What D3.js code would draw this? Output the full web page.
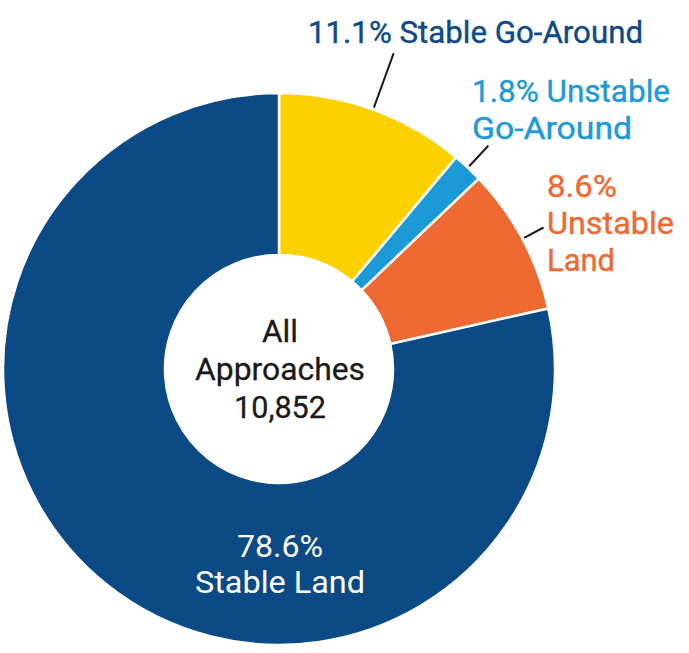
<!DOCTYPE html>
<html>
<head>
<meta charset="utf-8">
<script src="https://cdn.jsdelivr.net/npm/d3@7"></script>
<style>
  html, body { margin: 0; padding: 0; background: #ffffff; }
  svg { display: block; }
  text { font-family: Roboto, "Open Sans", sans-serif; }
</style>
</head>
<body>
<script>
// ---- data ----
const categories = ["Stable Go-Around", "Unstable Go-Around", "Unstable Land", "Stable Land"];
const percents = [11.1, 1.8, 8.6, 78.6];
const colors = ["#FDD000", "#1B9AD7", "#EE6A32", "#0B4A84"];
const labelColors = ["#0E4A86", "#1B9AD7", "#EE6A32", "#ffffff"];
const centerLines = ["All", "Approaches", "10,852"];

// ---- layout ----
const W = 689, H = 653;
const cx = 279, cy = 369, R = 276, r = 114;

const svg = d3.select("body").append("svg").attr("width", W).attr("height", H);
const g = svg.append("g").attr("transform", `translate(${cx},${cy})`);

const data = categories.map((c, i) => ({ cat: c, value: percents[i], color: colors[i], lc: labelColors[i] }));
const pie = d3.pie().sort(null).value(d => d.value);
const arcs = pie(data);
const arc = d3.arc().innerRadius(r).outerRadius(R);

g.selectAll("path.slice").data(arcs).enter().append("path")
  .attr("class", "slice")
  .attr("d", arc)
  .attr("fill", d => d.data.color)
  .attr("stroke", "#ffffff")
  .attr("stroke-width", 2.5)
  .attr("stroke-linejoin", "round");

// leader lines (radial, at slice mid-angle)
const leaderOuter = [336, 306, 300];
arcs.slice(0, 3).forEach((a, i) => {
  const m = (a.startAngle + a.endAngle) / 2;
  const r0 = R + 2, r1 = leaderOuter[i];
  g.append("line")
    .attr("x1", Math.sin(m) * r0).attr("y1", -Math.cos(m) * r0)
    .attr("x2", Math.sin(m) * r1).attr("y2", -Math.cos(m) * r1)
    .attr("stroke", "#1a1a1a").attr("stroke-width", 2);
});

// outside labels
const fmt = v => v.toFixed(1) + "%";
const labelSpecs = [
  { lines: [fmt(percents[0]) + " " + categories[0]], x: 308, y: 43, w: [335] },
  { lines: [fmt(percents[1]) + " Unstable", "Go-Around"], x: 472, y: 102, w: [198, 160] },
  { lines: [fmt(percents[2]), "Unstable", "Land"], x: 547, y: 197, w: [70, 127, 68] }
];
labelSpecs.forEach((s, i) => {
  s.lines.forEach((ln, j) => {
    svg.append("text")
      .attr("x", s.x).attr("y", s.y + j * 37)
      .attr("fill", data[i].lc)
      .attr("font-size", 32)
      .attr("font-weight", 400)
      .attr("stroke", data[i].lc)
      .attr("stroke-width", 0.4)
      .attr("textLength", s.w[j])
      .attr("lengthAdjust", "spacingAndGlyphs")
      .text(ln);
  });
});

// inside big slice label
[fmt(percents[3]), categories[3]].forEach((ln, j) => {
  svg.append("text")
    .attr("x", cx + 1).attr("y", 557 + j * 36)
    .attr("text-anchor", "middle")
    .attr("fill", data[3].lc)
    .attr("font-size", 32)
    .attr("font-weight", 400)
    .attr("textLength", j === 0 ? 86 : 170)
    .attr("lengthAdjust", "spacingAndGlyphs")
    .text(ln);
});

// center label
const centerW = [36, 170, 92];
centerLines.forEach((ln, j) => {
  svg.append("text")
    .attr("x", cx + 1).attr("y", 342 + j * 38)
    .attr("text-anchor", "middle")
    .attr("fill", "#1a1a1a")
    .attr("font-size", 32)
    .attr("font-weight", 400)
    .attr("stroke", "#1a1a1a")
    .attr("stroke-width", 0.3)
    .attr("textLength", centerW[j])
    .attr("lengthAdjust", "spacingAndGlyphs")
    .text(ln);
});
</script>
</body>
</html>
